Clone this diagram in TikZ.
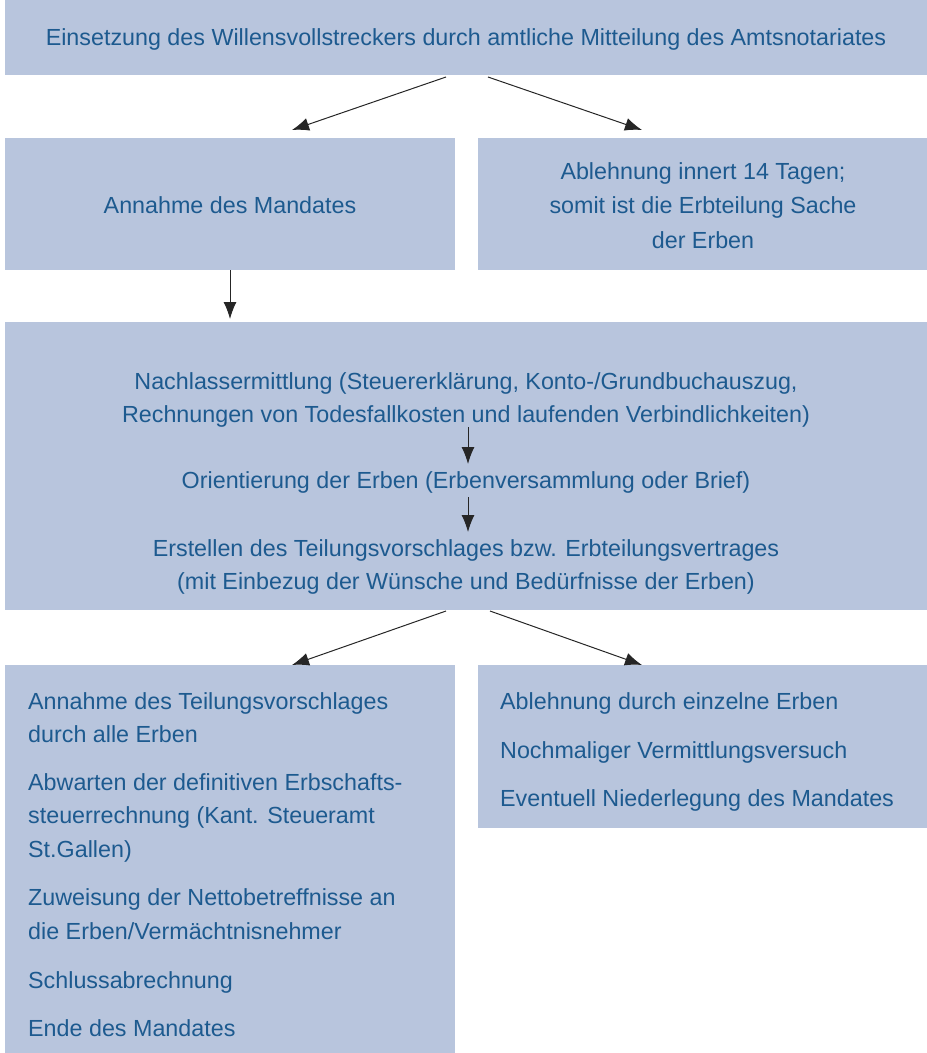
\documentclass[tikz,border=0pt]{standalone}
\usepackage{fontspec}
\setmainfont{Liberation Sans}
\usetikzlibrary{arrows.meta}
\definecolor{boxfill}{HTML}{B8C5DD}
\definecolor{txtblue}{HTML}{1D5A8F}
\begin{document}
\begin{tikzpicture}[x=1pt,y=-1pt,
  panel/.style={fill=boxfill,draw=none},
  lbl/.style={text=txtblue,font=\fontsize{23.3}{33.5}\selectfont,inner sep=0pt},
  arr/.style={draw=black!85,line width=1pt,-{Latex[length=17pt,width=13pt]}}]
\useasboundingbox (0,0) rectangle (927,1053);
% boxes
\fill[panel] (5,0) rectangle (927,75);
\fill[panel] (5,138) rectangle (455,270);
\fill[panel] (478,138) rectangle (927,270);
\fill[panel] (5,322) rectangle (927,610);
\fill[panel] (5,665) rectangle (455,1053);
\fill[panel] (478,665) rectangle (927,828);
% texts
\node[lbl,anchor=base] (t0) at (466,45) {Einsetzung des Willensvollstreckers durch amtliche Mitteilung des Amtsnotariates};
\node[lbl,anchor=base] (a1) at (230,213) {Annahme des Mandates};
\node[lbl,anchor=base] (a2) at (703,179) {Ablehnung innert 14 Tagen;};
\node[lbl,anchor=base] (a2b) at (703,213) {somit ist die Erbteilung Sache};
\node[lbl,anchor=base] (a2c) at (703,248) {der Erben};
\node[lbl,anchor=base] (m1) at (466,389) {Nachlassermittlung (Steuererklärung, Konto-/Grundbuchauszug,};
\node[lbl,anchor=base] (m1b) at (466,422) {Rechnungen von Todesfallkosten und laufenden Verbindlichkeiten)};
\node[lbl,anchor=base] (m2) at (466,488) {Orientierung der Erben (Erbenversammlung oder Brief)};
\node[lbl,anchor=base] (m3) at (466,556) {Erstellen des Teilungsvorschlages bzw. Erbteilungsvertrages};
\node[lbl,anchor=base] (m3b) at (466,589) {(mit Einbezug der Wünsche und Bedürfnisse der Erben)};
\node[lbl,anchor=base west] (l1) at (28,709) {Annahme des Teilungsvorschlages};
\node[lbl,anchor=base west] (l1b) at (28,742) {durch alle Erben};
\node[lbl,anchor=base west] (l2) at (28,790) {Abwarten der definitiven Erbschafts-};
\node[lbl,anchor=base west] (l2b) at (28,823) {steuerrechnung (Kant. Steueramt};
\node[lbl,anchor=base west] (l2c) at (28,857) {St.Gallen)};
\node[lbl,anchor=base west] (l3) at (28,905) {Zuweisung der Nettobetreffnisse an};
\node[lbl,anchor=base west] (l3b) at (28,939) {die Erben/Vermächtnisnehmer};
\node[lbl,anchor=base west] (l4) at (28,988) {Schlussabrechnung};
\node[lbl,anchor=base west] (l5) at (28,1036) {Ende des Mandates};
\node[lbl,anchor=base west] (r1) at (500,709) {Ablehnung durch einzelne Erben};
\node[lbl,anchor=base west] (r2) at (500,758) {Nochmaliger Vermittlungsversuch};
\node[lbl,anchor=base west] (r3) at (500,806) {Eventuell Niederlegung des Mandates};
% connector coordinates
\coordinate (c0l) at (446,77);
\coordinate (c0r) at (488,77);
\coordinate (c1l) at (292,130);
\coordinate (c1r) at (642,130);
\coordinate (c2a) at (230,270);
\coordinate (c2b) at (230,319);
\coordinate (ma) at (468,427);
\coordinate (mb) at (468,464);
\coordinate (mc) at (468,497);
\coordinate (md) at (468,532);
\coordinate (c3l) at (446,611);
\coordinate (c3r) at (490,611);
\coordinate (c4l) at (292,665);
\coordinate (c4r) at (642,665);
\draw[arr] (c0l) -- (c1l);
\draw[arr] (c0r) -- (c1r);
\draw[arr] (c2a) -- (c2b);
\draw[arr] (ma) -- (mb);
\draw[arr] (mc) -- (md);
\draw[arr] (c3l) -- (c4l);
\draw[arr] (c3r) -- (c4r);
\end{tikzpicture}
\end{document}
